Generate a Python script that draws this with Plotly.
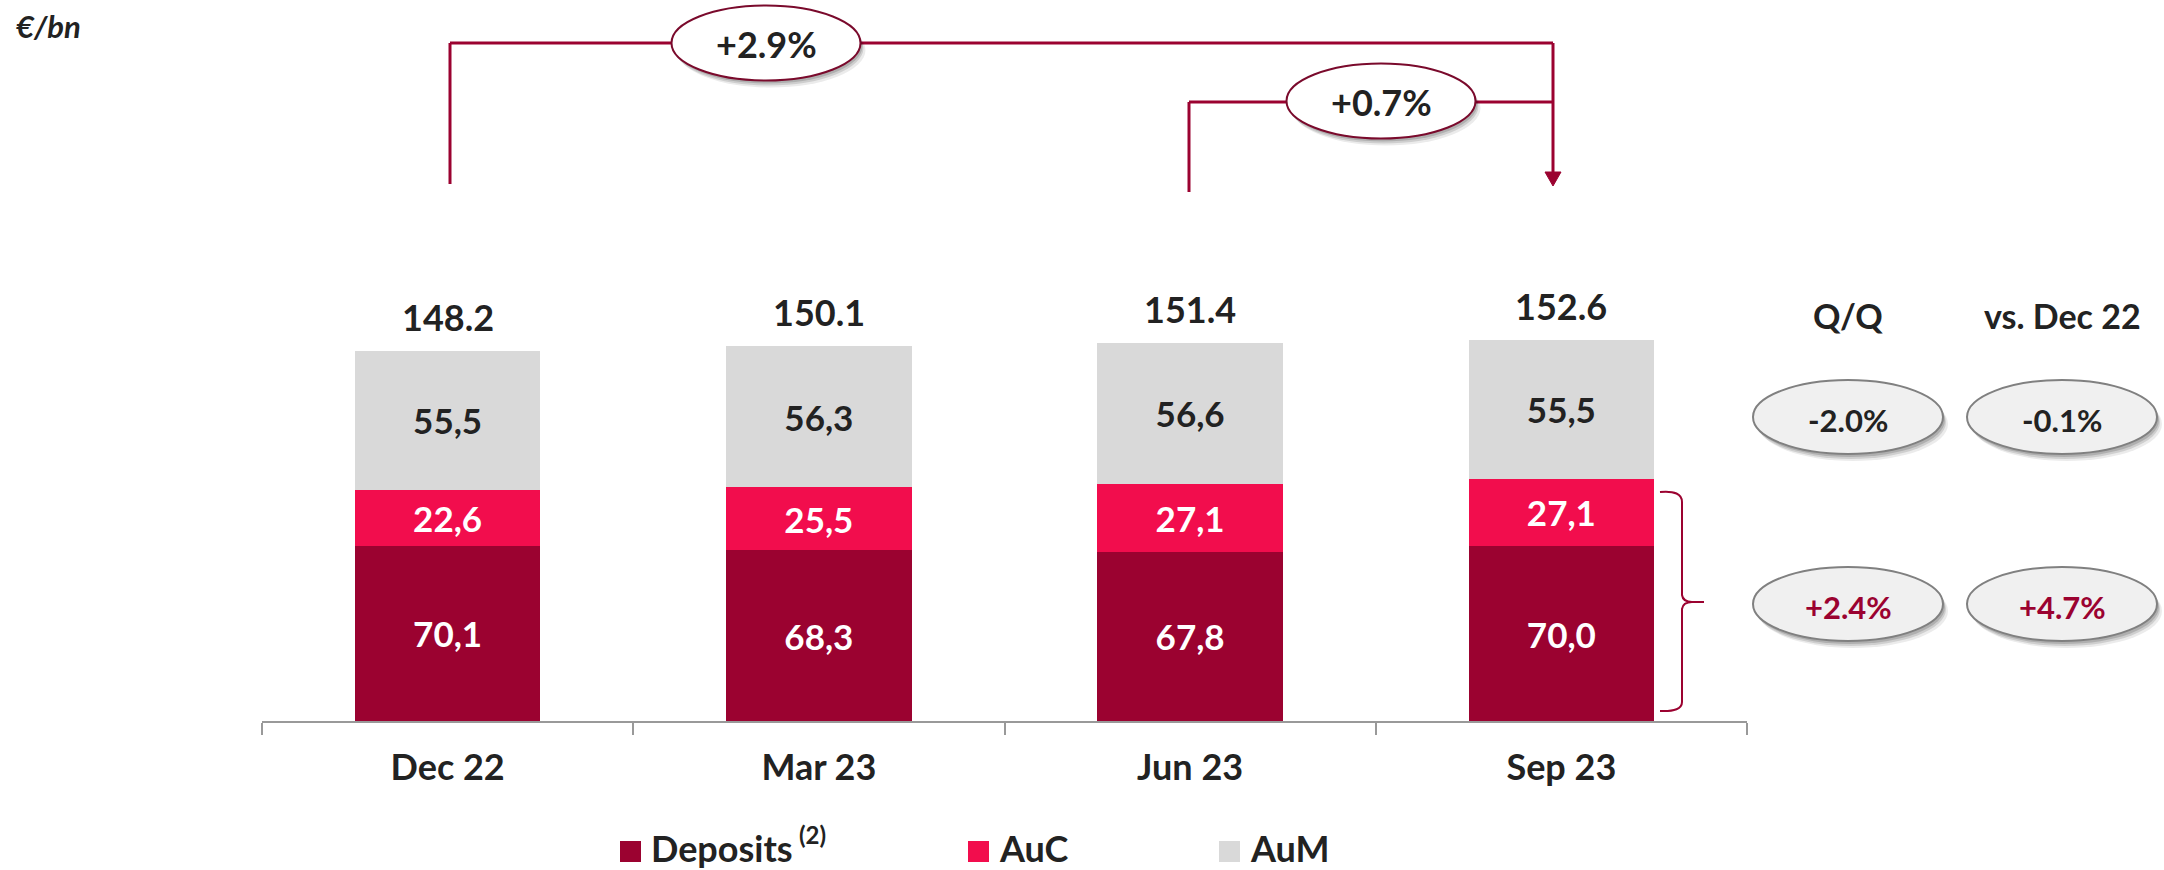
import plotly.graph_objects as go

# ---------------- data ----------------
categories = ["Dec 22", "Mar 23", "Jun 23", "Sep 23"]
deposits = [70.1, 68.3, 67.8, 70.0]
auc = [22.6, 25.5, 27.1, 27.1]
aum = [55.5, 56.3, 56.6, 55.5]
totals = [148.2, 150.1, 151.4, 152.6]
growth_total_ytd = "+2.9%"
growth_total_qq = "+0.7%"
table_headers = ["Q/Q", "vs. Dec 22"]
aum_growth = ["-2.0%", "-0.1%"]
dep_auc_growth = ["+2.4%", "+4.7%"]
unit_label = "€/bn"
legend_names = ["Deposits", "AuC", "AuM"]

# ---------------- style ----------------
C_DEP = "#9B0230"
C_AUC = "#F20D4D"
C_AUM = "#D9D9D9"
C_TXT = "#222222"
FONT = "Lato"

W, H = 2164, 870
L, R, T, B = 262, 417, 0, 149
PW, PH = W - L - R, H - T - B


def X(px):
    return (px - L) / PW


def Y(py):
    return 1 - (py - T) / PH


def fmt(v):
    return f"{v:.1f}".replace(".", ",")


fig = go.Figure()
for name, vals, col, tcol in [
    (legend_names[0], deposits, C_DEP, "white"),
    (legend_names[1], auc, C_AUC, "white"),
    (legend_names[2], aum, C_AUM, C_TXT),
]:
    fig.add_trace(go.Bar(
        x=categories, y=vals, name=name, marker=dict(color=col, line=dict(width=0)),
        text=[fmt(v) for v in vals], textposition="inside", insidetextanchor="middle",
        textangle=0, constraintext="none",
        textfont=dict(family=FONT, size=35, color=tcol, weight="bold"),
        hoverinfo="skip", showlegend=False,
    ))

ann = []
shapes = []

# totals above bars
for c, t in zip(categories, totals):
    ann.append(dict(x=c, y=t, xref="x", yref="y", text=f"{t:.1f}", showarrow=False,
                    yanchor="bottom", yshift=10,
                    font=dict(family=FONT, size=36, color=C_TXT, weight="bold")))

# unit label
ann.append(dict(x=X(14), y=Y(26), xref="paper", yref="paper", text=f"<i>{unit_label}</i>",
                showarrow=False, xanchor="left", yanchor="middle",
                font=dict(family=FONT, size=31, color=C_TXT, weight="bold")))

LINE = dict(color=C_DEP, width=3)


def seg(x0, y0, x1, y1, line=LINE):
    shapes.append(dict(type="line", xref="paper", yref="paper",
                       x0=X(x0), y0=Y(y0), x1=X(x1), y1=Y(y1), line=line, layer="above"))


# top connectors
seg(450, 184, 450, 43)
seg(450, 43, 1553, 43)
seg(1553, 43, 1553, 174)
seg(1189, 192, 1189, 102)
seg(1189, 102, 1553, 102)
shapes.append(dict(type="path", xref="paper", yref="paper",
                   path=f"M {X(1545)},{Y(172)} L {X(1561)},{Y(172)} L {X(1553)},{Y(186)} Z",
                   fillcolor=C_DEP, line=dict(color=C_DEP, width=1)))


def ellipse(cx, cy, w, h, fill, border, bw=2):
    for dx, dy, a in [(5, 7, 0.08), (3, 5, 0.12), (2, 3, 0.15)]:
        shapes.append(dict(type="circle", xref="paper", yref="paper",
                           x0=X(cx - w / 2 + dx), x1=X(cx + w / 2 + dx),
                           y0=Y(cy - h / 2 + dy), y1=Y(cy + h / 2 + dy),
                           fillcolor=f"rgba(0,0,0,{a})", line=dict(width=0), layer="above"))
    shapes.append(dict(type="circle", xref="paper", yref="paper",
                       x0=X(cx - w / 2), x1=X(cx + w / 2), y0=Y(cy - h / 2), y1=Y(cy + h / 2),
                       fillcolor=fill, line=dict(color=border, width=bw), layer="above"))


def label(cx, cy, text, size=36, color=C_TXT, xanchor="center"):
    ann.append(dict(x=X(cx), y=Y(cy), xref="paper", yref="paper", text=text, showarrow=False,
                    xanchor=xanchor, yanchor="middle",
                    font=dict(family=FONT, size=size, color=color, weight="bold")))


ellipse(766, 43, 189, 75, "white", "#7A0A2C")
label(766, 44, growth_total_ytd, 36)
ellipse(1381, 101, 189, 75, "white", "#7A0A2C")
label(1381, 102, growth_total_qq, 36)

# right-hand table
col_x = [1848, 2062]
for cx, h in zip(col_x, table_headers):
    label(cx, 315, h, 34)
for cx, g in zip(col_x, aum_growth):
    ellipse(cx, 417, 190, 74, "#F0F0F0", "#808080")
    label(cx, 420, g, 31)
for cx, g in zip(col_x, dep_auc_growth):
    ellipse(cx, 604, 190, 74, "#F0F0F0", "#808080")
    label(cx, 607, g, 31, color=C_DEP)

# brace
bp = (f"M {X(1660)},{Y(492)} Q {X(1682)},{Y(490)} {X(1682)},{Y(502)} L {X(1682)},{Y(595)} "
      f"Q {X(1683)},{Y(602)} {X(1692)},{Y(602)} L {X(1704)},{Y(602)} "
      f"M {X(1692)},{Y(602)} Q {X(1683)},{Y(602)} {X(1682)},{Y(609)} L {X(1682)},{Y(702)} "
      f"Q {X(1682)},{Y(712)} {X(1660)},{Y(711)}")
shapes.append(dict(type="path", xref="paper", yref="paper", path=bp,
                   line=dict(color=C_DEP, width=2)))

# custom legend
leg = [(legend_names[0], C_DEP, 620), (legend_names[1], C_AUC, 968), (legend_names[2], C_AUM, 1219)]
for txt, col, x0 in leg:
    shapes.append(dict(type="rect", xref="paper", yref="paper",
                       x0=X(x0), x1=X(x0 + 21), y0=Y(841), y1=Y(862),
                       fillcolor=col, line=dict(width=0)))
    label(x0 + 29, 848, txt, 36, xanchor="left")
label(797, 834, "(2)", 24, xanchor="left")

fig.update_layout(
    width=W, height=H, margin=dict(l=L, r=R, t=T, b=B),
    barmode="stack", bargap=0.5,
    plot_bgcolor="white", paper_bgcolor="white",
    annotations=ann, shapes=shapes,
    xaxis=dict(type="category", range=[-0.5, 3.5], tickson="boundaries",
               ticks="outside", ticklen=12, tickwidth=2, tickcolor="#999999",
               ticklabelstandoff=14,
               showline=True, linecolor="#999999", linewidth=2, showgrid=False,
               tickfont=dict(family=FONT, size=36, color=C_TXT, weight="bold")),
    yaxis=dict(range=[0, 288.8], visible=False, showgrid=False, zeroline=False),
    font=dict(family=FONT),
)

fig.write_html("out.html", config={"displayModeBar": False},
               post_script="document.body.style.margin='0';")
